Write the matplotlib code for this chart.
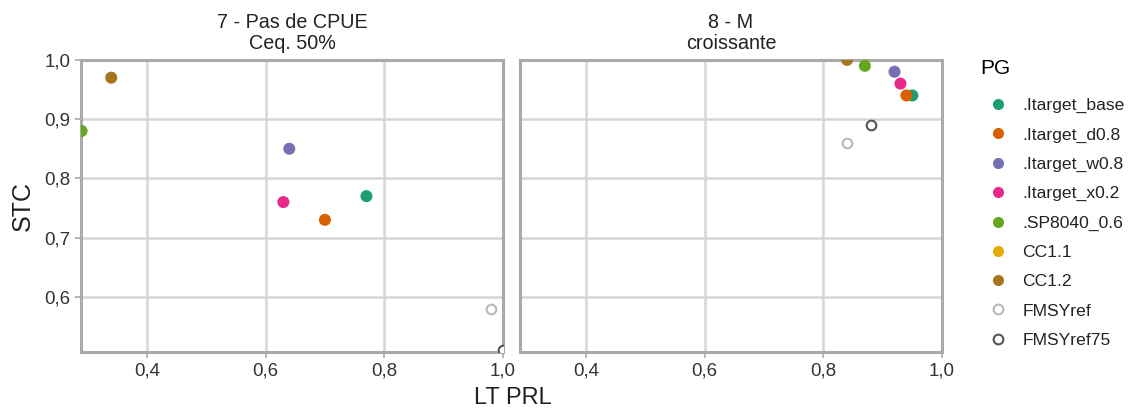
import numpy as np
import matplotlib
matplotlib.use("Agg")
import matplotlib.pyplot as plt
from matplotlib.lines import Line2D
from matplotlib.ticker import FuncFormatter

plt.rcParams['font.family'] = ['Liberation Sans', 'DejaVu Sans']

panels = ["7 - Pas de CPUE\nCeq. 50%", "8 - M\ncroissante"]
groups = [".Itarget_base", ".Itarget_d0.8", ".Itarget_w0.8", ".Itarget_x0.2",
          ".SP8040_0.6", "CC1.1", "CC1.2", "FMSYref", "FMSYref75"]
colors = ["#1b9e77", "#d95f02", "#7570b3", "#e7298a", "#66a61e",
          "#e6ab02", "#a6761d", "#b8b8b8", "#555555"]
hollow = [False, False, False, False, False, False, False, True, True]

# LT PRL (x) and STC (y) per panel, per group (NaN = not shown)
lt_prl_p7 = [0.77, 0.70, 0.64, 0.63, 0.29, np.nan, 0.34, 0.98, 1.00]
stc_p7    = [0.77, 0.73, 0.85, 0.76, 0.88, np.nan, 0.97, 0.58, 0.51]
lt_prl_p8 = [0.95, 0.94, 0.92, 0.93, 0.87, np.nan, 0.84, 0.84, 0.88]
stc_p8    = [0.94, 0.94, 0.98, 0.96, 0.99, np.nan, 1.00, 0.86, 0.89]

xs = [lt_prl_p7, lt_prl_p8]
ys = [stc_p7, stc_p8]

fig = plt.figure(figsize=(11.31, 4.16), dpi=100)
frame_col = "#aaaaaa"
grid_col = "#d6d6d6"
comma = FuncFormatter(lambda v, p: f"{v:.1f}".replace(".", ","))

axes = []
lefts = [0.0716, 0.4598]
for i in range(2):
    ax = fig.add_axes([lefts[i], 0.154, 0.3731, 0.702])
    axes.append(ax)
    for g in range(len(groups)):
        if hollow[g]:
            ax.scatter(xs[i][g], ys[i][g], s=48, facecolors="white",
                       edgecolors=colors[g], linewidths=1.5, zorder=3)
        else:
            ax.scatter(xs[i][g], ys[i][g], s=75, color=colors[g],
                       edgecolors="none", zorder=3)
    ax.set_xlim(0.289, 1.0)
    ax.set_ylim(0.507, 1.0)
    ax.set_xticks([0.4, 0.6, 0.8, 1.0])
    ax.set_yticks([0.6, 0.7, 0.8, 0.9, 1.0])
    ax.xaxis.set_major_formatter(comma)
    ax.yaxis.set_major_formatter(comma)
    ax.grid(True, color=grid_col, linewidth=1.8)
    ax.set_axisbelow(True)
    for sp in ax.spines.values():
        sp.set_color(frame_col)
        sp.set_linewidth(2.2)
    ax.tick_params(axis='both', labelcolor="#333333", labelsize=13.5, length=4,
                   width=1.2, direction='out', color=frame_col)
    ax.set_title(panels[i], fontsize=14.2, color="#222222", linespacing=1.15, pad=8)
    if i == 1:
        ax.tick_params(axis='y', left=False, labelleft=False)

axes[0].set_ylabel("STC", fontsize=18, color="#222222", labelpad=7)
fig.text(0.4532, 0.018, "LT PRL", fontsize=17, color="#222222", ha="center", va="bottom")

handles = []
for g in range(len(groups)):
    if hollow[g]:
        h = Line2D([], [], marker="o", linestyle="none", markersize=7,
                   markerfacecolor="white", markeredgecolor=colors[g], markeredgewidth=1.5)
    else:
        h = Line2D([], [], marker="o", linestyle="none", markersize=8,
                   markerfacecolor=colors[g], markeredgecolor="none")
    handles.append(h)
leg = fig.legend(handles, groups, loc="upper left", bbox_to_anchor=(0.853, 0.895),
                 frameon=False, title="PG", fontsize=12.6, title_fontsize=15,
                 labelspacing=0.8, handletextpad=0.4, alignment="left")
leg._legend_box.sep = 14
for t in leg.get_texts():
    t.set_color("#222222")

fig.savefig("out.png", dpi=100)
